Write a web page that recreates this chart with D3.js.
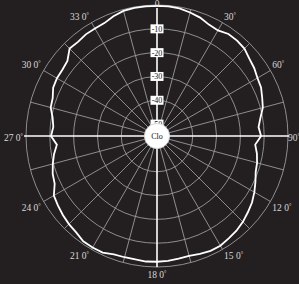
<!DOCTYPE html>
<html><head><meta charset="utf-8">
<script src="https://cdn.jsdelivr.net/npm/d3@7"></script>
<style>html,body{margin:0;padding:0;background:#231f20;}svg{display:block;}</style>
</head><body>
<script>
const angles = d3.range(0, 360, 5);
const levels = [-0.4,-0.4,-0.6,-1.3,-2.1,-3.4,-3.8,-2.7,-2.7,-3.1,-4.4,-5.2,-6.3,-6.8,-8.0,-9.0,-10.9,-12.2,
  -11.3,-13.6,-12.4,-11.5,-10.9,-9.4,-7.8,-6.3,-5.2,-4.0,-3.1,-2.5,-1.8,-1.8,-2.3,-2.9,-2.7,-2.4,
  -2.2,-2.1,-2.4,-2.3,-2.1,-1.0,-0.9,-1.0,-2.2,-2.7,-3.4,-4.2,-5.0,-7.6,-8.4,-9.7,-11.1,-12.8,
  -10.5,-11.3,-10.5,-8.8,-8.4,-6.9,-6.5,-6.5,-5.9,-3.1,-3.4,-2.9,-2.9,-2.7,-1.5,-0.6,-0.4,-0.4];
const ringValues = [0, -10, -20, -30, -40, -50];
const ringLabels = ["-10", "-20", "-30", "-40", "-50"];
const angleTicks = [0,30,60,90,120,150,180,210,240,270,300,330];
const angleLabels = ["0","30","60","90","12 0","15 0","18 0","21 0","24 0","27 0","30 0","33 0"];
const centerLabel = "Clo";

const W = 299, H = 284, cx = 157, cy = 136, R = 131;
const svg = d3.select("body").append("svg").attr("width", W).attr("height", H);
svg.append("rect").attr("width", W).attr("height", H).attr("fill", "#231f20");
const r = d3.scaleLinear().domain([-55, 0]).range([0, R]);
const a = d3.scaleLinear().domain([0, 360]).range([0, 2 * Math.PI]);
const g = svg.append("g").attr("transform", `translate(${cx},${cy})`);
const grid = "#9a9a9a";

g.selectAll("circle.ring").data(ringValues).join("circle")
  .attr("r", d => r(d)).attr("fill", "none").attr("stroke", grid).attr("stroke-width", 0.9);
g.selectAll("line.spoke").data(d3.range(0, 360, 15).filter(d => d % 90 !== 0)).join("line")
  .attr("x1", 0).attr("y1", 0)
  .attr("x2", d => R * Math.sin(a(d))).attr("y2", d => -R * Math.cos(a(d)))
  .attr("stroke", grid).attr("stroke-width", 0.9);
g.append("line").attr("x1", -R - 2).attr("x2", R + 1).attr("y1", 0).attr("y2", 0)
  .attr("stroke", "#fff").attr("stroke-width", 1.6);
g.append("line").attr("x1", 0).attr("x2", 0).attr("y1", -cy + 8).attr("y2", R)
  .attr("stroke", "#fff").attr("stroke-width", 1.6);

const line = d3.lineRadial().angle((d, i) => a(angles[i])).radius(d => r(d)).curve(d3.curveLinearClosed);
g.append("path").attr("d", line(levels)).attr("fill", "none").attr("stroke", "#fff").attr("stroke-width", 1.8);

const rl = g.selectAll("g.rl").data(ringLabels).join("g")
  .attr("transform", d => `translate(0,${-r(+d)})`);
rl.append("rect").attr("x", -6.5).attr("y", -4.5).attr("width", 13).attr("height", 9).attr("fill", "#fff");
rl.append("text").text(d => d).attr("text-anchor", "middle").attr("dy", 3)
  .attr("font-family", "Liberation Serif").attr("font-size", 8).attr("fill", "#111");

g.append("circle").attr("r", 12.5).attr("fill", "#fff").attr("stroke", "#ddd");
g.append("text").text(centerLabel).attr("text-anchor", "middle").attr("dy", 3)
  .attr("font-family", "Liberation Serif").attr("font-size", 8).attr("fill", "#111");

angleTicks.forEach((t, i) => {
  const s = Math.sin(a(t)), c = Math.cos(a(t));
  let x = (R + 1) * s, y = -(R + 1) * c;
  let anchor = t === 0 || t === 180 ? "middle" : (t < 180 ? "start" : "end");
  let yy = y + (c > 0.1 ? -2 : (c < -0.1 ? 9 : 5));
  if (t === 0) yy = -cy + 7;
  if (t === 180) yy = y + 10;
  let xx = x + (anchor === "start" ? 1 : anchor === "end" ? -2 : 0);
  if (t === 90) xx = x - 1;
  const tx = svg.append("text").attr("x", cx + xx).attr("y", cy + yy).attr("text-anchor", anchor)
    .attr("font-family", "Liberation Serif").attr("font-size", 9.5).attr("fill", "#d8d8d8");
  tx.append("tspan").text(angleLabels[i]);
  if (t !== 0) tx.append("tspan").text("°").attr("font-size", 6).attr("dy", -3);
});
</script>
</body></html>
